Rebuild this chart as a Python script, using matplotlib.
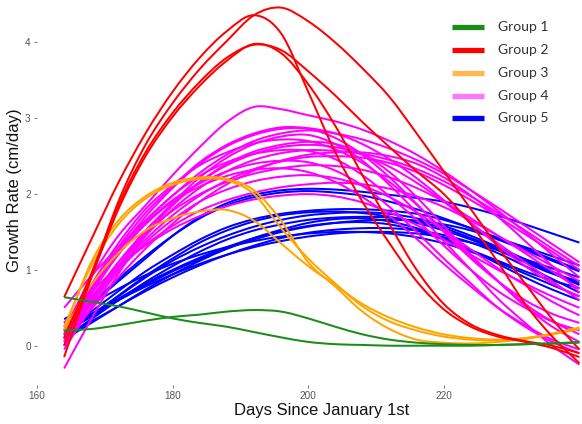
import matplotlib
matplotlib.use("Agg")
import matplotlib.pyplot as plt
from matplotlib.lines import Line2D
from matplotlib.path import Path
from matplotlib.patches import PathPatch

days = [164, 168, 172, 176, 180, 184, 188, 192, 196, 200,
        204, 208, 212, 216, 220, 224, 228, 232, 236, 240]

group1 = [
    [0.64, 0.58, 0.52, 0.44, 0.36, 0.30, 0.25, 0.18, 0.11, 0.05, 0.02, 0.01, 0.00, 0.00, 0.00, 0.00, 0.01, 0.02, 0.03, 0.04],
    [0.20, 0.22, 0.27, 0.33, 0.38, 0.41, 0.45, 0.47, 0.45, 0.36, 0.25, 0.15, 0.08, 0.04, 0.02, 0.01, 0.01, 0.02, 0.03, 0.05],
]

group2 = [
    [0.64, 1.40, 2.15, 2.80, 3.35, 3.80, 4.15, 4.36, 4.12, 3.35, 2.55, 1.90, 1.35, 0.85, 0.48, 0.25, 0.12, 0.05, -0.03, -0.15],
    [-0.15, 0.90, 1.90, 2.65, 3.20, 3.65, 4.02, 4.36, 4.46, 4.28, 4.00, 3.66, 3.28, 2.80, 2.30, 1.80, 1.30, 0.82, 0.35, -0.05],
    [0.00, 0.90, 1.80, 2.50, 3.02, 3.43, 3.76, 3.98, 3.86, 3.45, 2.90, 2.25, 1.60, 1.00, 0.55, 0.28, 0.14, 0.06, 0.00, -0.10],
    [0.10, 0.95, 1.85, 2.55, 3.07, 3.48, 3.80, 3.97, 3.90, 3.62, 3.30, 2.95, 2.62, 2.30, 2.00, 1.60, 1.10, 0.55, 0.12, -0.23],
]

group3 = [
    [0.20, 1.10, 1.65, 1.97, 2.15, 2.22, 2.20, 2.05, 1.65, 1.10, 0.78, 0.45, 0.22, 0.08, 0.04, 0.03, 0.05, 0.09, 0.15, 0.23],
    [0.25, 1.05, 1.60, 1.94, 2.12, 2.20, 2.18, 2.00, 1.55, 1.15, 0.82, 0.52, 0.32, 0.20, 0.12, 0.08, 0.07, 0.10, 0.16, 0.24],
    [0.20, 0.80, 1.22, 1.52, 1.68, 1.77, 1.79, 1.65, 1.35, 1.05, 0.80, 0.55, 0.37, 0.24, 0.15, 0.10, 0.08, 0.10, 0.15, 0.22],
]

group4 = [
    [0.20, 0.90, 1.45, 1.85, 2.25, 2.62, 2.95, 3.15, 3.12, 3.04, 2.96, 2.85, 2.70, 2.52, 2.30, 2.05, 1.78, 1.50, 1.20, 0.90],
    [0.50, 0.92, 1.30, 1.65, 1.98, 2.28, 2.52, 2.70, 2.80, 2.84, 2.80, 2.72, 2.60, 2.45, 2.27, 2.05, 1.82, 1.58, 1.34, 1.10],
    [0.10, 0.70, 1.25, 1.70, 2.08, 2.40, 2.63, 2.78, 2.86, 2.86, 2.74, 2.52, 2.22, 1.87, 1.50, 1.15, 0.85, 0.60, 0.42, 0.30],
    [-0.30, 0.35, 0.95, 1.45, 1.88, 2.22, 2.48, 2.66, 2.76, 2.78, 2.66, 2.44, 2.12, 1.76, 1.38, 1.00, 0.62, 0.30, 0.00, -0.25],
    [0.00, 0.60, 1.10, 1.52, 1.87, 2.16, 2.38, 2.53, 2.62, 2.65, 2.62, 2.52, 2.36, 2.15, 1.90, 1.62, 1.35, 1.10, 0.85, 0.60],
    [0.15, 0.72, 1.25, 1.65, 1.98, 2.24, 2.42, 2.53, 2.58, 2.57, 2.46, 2.25, 1.97, 1.66, 1.32, 1.00, 0.72, 0.50, 0.32, 0.20],
    [0.05, 0.55, 1.02, 1.40, 1.72, 1.98, 2.18, 2.33, 2.43, 2.49, 2.50, 2.48, 2.41, 2.29, 2.12, 1.92, 1.70, 1.47, 1.24, 1.00],
    [0.20, 0.75, 1.25, 1.62, 1.92, 2.14, 2.30, 2.40, 2.44, 2.42, 2.31, 2.11, 1.83, 1.50, 1.15, 0.82, 0.50, 0.25, 0.05, -0.10],
    [0.10, 0.62, 1.10, 1.48, 1.78, 2.00, 2.16, 2.27, 2.34, 2.38, 2.37, 2.32, 2.22, 2.08, 1.90, 1.68, 1.45, 1.22, 0.98, 0.75],
    [-0.05, 0.50, 0.98, 1.36, 1.66, 1.90, 2.06, 2.17, 2.23, 2.25, 2.21, 2.11, 1.96, 1.76, 1.52, 1.27, 1.02, 0.80, 0.58, 0.40],
    [0.25, 0.65, 1.02, 1.33, 1.58, 1.78, 1.92, 2.02, 2.09, 2.13, 2.15, 2.13, 2.07, 1.97, 1.83, 1.65, 1.45, 1.25, 1.05, 0.85],
    [0.00, 0.55, 1.05, 1.48, 1.85, 2.16, 2.40, 2.56, 2.65, 2.69, 2.66, 2.53, 2.29, 1.96, 1.58, 1.20, 0.85, 0.52, 0.25, 0.05],
    [0.30, 0.70, 1.05, 1.32, 1.54, 1.71, 1.84, 1.93, 1.98, 2.00, 1.97, 1.89, 1.76, 1.59, 1.40, 1.20, 1.00, 0.82, 0.65, 0.50],
    [0.10, 0.48, 0.90, 1.28, 1.61, 1.90, 2.13, 2.31, 2.44, 2.52, 2.55, 2.55, 2.50, 2.40, 2.22, 1.98, 1.70, 1.38, 1.05, 0.70],
    [0.05, 0.68, 1.20, 1.60, 1.90, 2.10, 2.24, 2.32, 2.34, 2.29, 2.16, 1.96, 1.71, 1.41, 1.08, 0.78, 0.50, 0.27, 0.08, -0.05],
    [0.15, 0.80, 1.35, 1.80, 2.12, 2.38, 2.55, 2.67, 2.72, 2.70, 2.59, 2.41, 2.16, 1.86, 1.52, 1.18, 0.85, 0.55, 0.32, 0.15],
    [0.08, 0.58, 1.05, 1.45, 1.80, 2.08, 2.30, 2.45, 2.54, 2.58, 2.57, 2.53, 2.45, 2.33, 2.17, 1.97, 1.75, 1.52, 1.28, 1.05],
    [0.20, 0.78, 1.30, 1.75, 2.10, 2.42, 2.65, 2.80, 2.88, 2.87, 2.80, 2.66, 2.46, 2.21, 1.92, 1.62, 1.32, 1.05, 0.82, 0.65],
]

group5 = [
    [0.30, 0.55, 0.85, 1.15, 1.45, 1.70, 1.88, 1.99, 2.05, 2.07, 2.06, 2.03, 1.99, 1.95, 1.90, 1.82, 1.72, 1.60, 1.48, 1.36],
    [0.25, 0.55, 0.88, 1.18, 1.45, 1.68, 1.85, 1.96, 2.02, 2.04, 2.02, 1.98, 1.90, 1.80, 1.68, 1.55, 1.42, 1.30, 1.18, 1.06],
    [0.20, 0.45, 0.72, 0.98, 1.20, 1.40, 1.56, 1.67, 1.74, 1.78, 1.80, 1.80, 1.78, 1.74, 1.66, 1.55, 1.42, 1.28, 1.14, 1.00],
    [0.15, 0.40, 0.65, 0.90, 1.12, 1.30, 1.45, 1.57, 1.66, 1.72, 1.75, 1.76, 1.74, 1.68, 1.58, 1.45, 1.30, 1.14, 0.98, 0.82],
    [0.10, 0.35, 0.60, 0.84, 1.05, 1.24, 1.40, 1.52, 1.60, 1.66, 1.69, 1.70, 1.69, 1.64, 1.55, 1.42, 1.28, 1.12, 0.96, 0.80],
    [0.18, 0.38, 0.60, 0.80, 0.98, 1.14, 1.28, 1.40, 1.50, 1.57, 1.62, 1.65, 1.66, 1.65, 1.60, 1.52, 1.40, 1.26, 1.12, 0.98],
    [0.12, 0.32, 0.52, 0.72, 0.90, 1.06, 1.20, 1.32, 1.42, 1.49, 1.53, 1.55, 1.55, 1.52, 1.46, 1.36, 1.22, 1.05, 0.88, 0.70],
    [0.08, 0.30, 0.52, 0.74, 0.94, 1.12, 1.28, 1.42, 1.53, 1.62, 1.67, 1.68, 1.64, 1.55, 1.42, 1.26, 1.08, 0.90, 0.74, 0.60],
    [0.22, 0.42, 0.62, 0.82, 1.00, 1.16, 1.30, 1.42, 1.51, 1.58, 1.62, 1.63, 1.60, 1.52, 1.40, 1.26, 1.12, 0.98, 0.86, 0.76],
    [0.35, 0.55, 0.75, 0.93, 1.08, 1.20, 1.30, 1.38, 1.44, 1.48, 1.50, 1.50, 1.48, 1.43, 1.35, 1.24, 1.10, 0.95, 0.80, 0.65],
    [0.14, 0.40, 0.66, 0.92, 1.15, 1.36, 1.52, 1.64, 1.72, 1.76, 1.77, 1.75, 1.70, 1.62, 1.52, 1.40, 1.26, 1.10, 0.95, 0.85],
    [0.20, 0.40, 0.60, 0.78, 0.94, 1.08, 1.20, 1.30, 1.38, 1.44, 1.48, 1.50, 1.50, 1.48, 1.43, 1.36, 1.26, 1.14, 1.02, 0.90],
]

group_labels = ["Group 1", "Group 2", "Group 3", "Group 4", "Group 5"]
line_colors = ["#1a8c1a", "#ff0000", "#ffa500", "#ff00ff", "#0000ff"]
legend_colors = ["#1a8c1a", "#ff0000", "#ffb84d", "#ff77ff", "#0000ff"]
x_ticks = [160, 180, 200, 220]
y_ticks = [0, 1, 2, 3, 4]


def smooth_path(xs, ys):
    """Catmull-Rom curve through the data points, drawn as cubic Bezier segments."""
    pts = list(zip(xs, ys))
    n = len(pts)
    verts = [pts[0]]
    codes = [Path.MOVETO]
    for i in range(n - 1):
        p0 = pts[i - 1] if i > 0 else pts[i]
        p1 = pts[i]
        p2 = pts[i + 1]
        p3 = pts[i + 2] if i + 2 < n else pts[i + 1]
        c1 = (p1[0] + (p2[0] - p0[0]) / 6.0, p1[1] + (p2[1] - p0[1]) / 6.0)
        c2 = (p2[0] - (p3[0] - p1[0]) / 6.0, p2[1] - (p3[1] - p1[1]) / 6.0)
        verts += [c1, c2, p2]
        codes += [Path.CURVE4, Path.CURVE4, Path.CURVE4]
    return Path(verts, codes)


W, H = 582, 424
fig = plt.figure(figsize=(W / 100, H / 100), dpi=100)
px_per_day = 6.78
px_per_unit = 75.8
left_px, bottom_px = 37.0, 385.0
ax = fig.add_axes([left_px / W, (H - bottom_px) / H, (W - left_px) / W, bottom_px / H])
ax.set_xlim(160, 160 + (W - left_px) / px_per_day)
ax.set_ylim((345.7 - bottom_px) / px_per_unit, 345.7 / px_per_unit)

groups = [group1, group2, group3, group4, group5]
order = [4, 3, 2, 1, 0]
for k, gi in enumerate(order):
    for series in groups[gi]:
        patch = PathPatch(smooth_path(days, series), fill=False, edgecolor=line_colors[gi],
                          lw=1.45, joinstyle="round", capstyle="butt", zorder=2 + k * 0.01)
        ax.add_patch(patch)

for s in ax.spines.values():
    s.set_visible(False)
ax.set_xticks(x_ticks)
ax.set_yticks(y_ticks)
ax.set_xticklabels([str(t) for t in x_ticks])
ax.set_yticklabels([str(t) for t in y_ticks])
ax.tick_params(axis="both", length=2.5, width=0.7, color="#777777",
               labelcolor="#555555", labelsize=7.2, pad=2)
for lab in ax.get_xticklabels() + ax.get_yticklabels():
    lab.set_family("Liberation Sans")

fig.text(322 / W, 1 - 410 / H, "Days Since January 1st", ha="center", va="center",
         fontsize=12, family="Liberation Sans", color="#111111")
fig.text(15 / W, 1 - 190 / H, "Growth Rate (cm/day)", ha="center", va="center",
         rotation=90, fontsize=12, family="Liberation Sans", color="#111111")

leg_y = [27, 50, 73, 96, 118]
for lab, col, yy in zip(group_labels, legend_colors, leg_y):
    fig.add_artist(Line2D([452 / W, 484 / W], [1 - yy / H, 1 - yy / H],
                          transform=fig.transFigure, color=col, lw=3.8, solid_capstyle="butt"))
    fig.text(498 / W, 1 - yy / H, lab, ha="left", va="center", fontsize=10,
             family="Lato", color="#333333")

fig.savefig("out.png", dpi=100)
